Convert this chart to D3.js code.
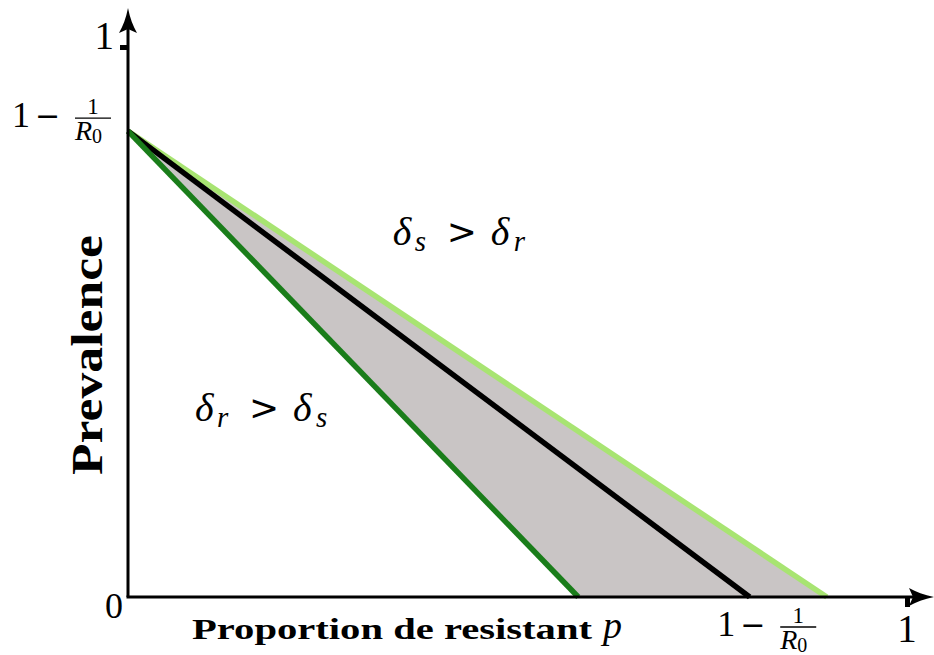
<!DOCTYPE html>
<html lang="en">
<head>
<meta charset="UTF-8">
<title>Prevalence vs proportion de resistant</title>
<script src="https://cdn.jsdelivr.net/npm/d3@7"></script>
<style>
  body { margin: 0; background: #fff; }
  svg text { font-family: "Liberation Serif", "DejaVu Serif", serif; fill: #000; }
  .it { font-style: italic; }
  .op { font-family: "DejaVu Sans", sans-serif; }
  .axis .domain { display: none; }
  .axis line { stroke: #000; stroke-width: 5; }
</style>
</head>
<body>
<script>
// valeurs
var prevStart = 0.847;                     // 1 - 1/R0 sur l'axe y
var lineNames = ["rapide", "neutre", "lent"];
var lineEnds = [0.578, 0.798, 0.897];      // p ou chaque droite touche 0
var lineColors = ["#1a7d1a", "#000000", "#a8e472"];
var xTicks = [1];
var yTicks = [1];
var xFracTick = 0.818;                     // position du label 1 - 1/R0 en bas
var regionLabels = [
  {sub1: "s", sub2: "r", p: 0.340, v: 0.64},
  {sub1: "r", sub2: "s", p: 0.086, v: 0.32}
];

var width = 934, height = 655;
var x0 = 128, x1 = 907, y0 = 597, y1 = 47;

var svg = d3.select("body").append("svg")
  .attr("width", width)
  .attr("height", height);

var x = d3.scaleLinear().domain([0, 1]).range([x0, x1]);
var y = d3.scaleLinear().domain([0, 1]).range([y0, y1]);
var line = d3.line().x(function(d){ return x(d[0]); }).y(function(d){ return y(d[1]); });

// zone grise entre les deux droites vertes
svg.append("path")
  .datum([[0, prevStart], [lineEnds[0], 0], [lineEnds[2], 0]])
  .attr("d", line)
  .attr("fill", "#c9c5c5");

// les trois droites
var lineData = lineNames.map(function(n, i){
  return {name: n, color: lineColors[i], pts: [[0, prevStart], [lineEnds[i], 0]]};
});
svg.append("g").selectAll("path")
  .data([lineData[2], lineData[1], lineData[0]])
  .enter().append("path")
  .attr("d", function(d){ return line(d.pts); })
  .attr("fill", "none")
  .attr("stroke", function(d){ return d.color; })
  .attr("stroke-width", 5.5);

// axes avec fleches
svg.append("line").attr("x1", x0).attr("y1", y0).attr("x2", x0).attr("y2", 24)
  .attr("stroke", "#000").attr("stroke-width", 3);
svg.append("line").attr("x1", x0 - 1.5).attr("y1", y0).attr("x2", 918).attr("y2", y0)
  .attr("stroke", "#000").attr("stroke-width", 3);
svg.append("path")
  .attr("d", "M128,8 C130,18 133,26 137,33 L128,29 L119,33 C123,26 126,18 128,8 Z")
  .attr("fill", "#000");
svg.append("path")
  .attr("d", "M934,597 C924,599 916,602 909,606 L913,597 L909,588 C916,592 924,595 934,597 Z")
  .attr("fill", "#000");

svg.append("g").attr("class", "axis")
  .attr("transform", "translate(" + x0 + ",0)")
  .call(d3.axisLeft(y).tickValues(yTicks).tickSize(8).tickFormat(""));
svg.append("g").attr("class", "axis")
  .attr("transform", "translate(0," + (y0 + 1) + ")")
  .call(d3.axisBottom(x).tickValues(xTicks).tickSize(9).tickFormat(""));

// labels de graduation
svg.selectAll(".ylab").data(yTicks).enter().append("text")
  .attr("x", 114).attr("y", function(d){ return y(d) + 2; })
  .attr("text-anchor", "end").attr("font-size", 39).text(function(d){ return d; });
svg.selectAll(".xlab").data(xTicks).enter().append("text")
  .attr("x", function(d){ return x(d); }).attr("y", 642)
  .attr("text-anchor", "middle").attr("font-size", 39).text(function(d){ return d; });
svg.append("text").attr("x", 123).attr("y", 618)
  .attr("text-anchor", "end").attr("font-size", 36).text("0");

// 1 - 1/R0
function fracLabel(left, base){
  var g = svg.append("g").attr("transform", "translate(" + left + "," + base + ")");
  g.append("text").attr("x", 0).attr("y", 0).attr("font-size", 36).text("1");
  g.append("text").attr("class", "op").attr("x", 23).attr("y", -1).attr("font-size", 30).text("\u2212");
  g.append("text").attr("x", 81).attr("y", -13).attr("font-size", 23)
    .attr("text-anchor", "middle").text("1");
  g.append("line").attr("x1", 63).attr("x2", 99).attr("y1", -9).attr("y2", -9)
    .attr("stroke", "#000").attr("stroke-width", 1.4);
  var t = g.append("text").attr("x", 63).attr("y", 13).attr("font-size", 28);
  t.append("tspan").attr("class", "it").text("R");
  t.append("tspan").attr("font-size", 20).attr("dy", 3).text("0");
}
fracLabel(12, y(prevStart) - 4);
fracLabel(x(xFracTick) - 48, 636);

// titres des axes
svg.append("text")
  .attr("transform", "translate(102," + 355 + ") rotate(-90)")
  .attr("text-anchor", "middle").attr("font-size", 44).attr("font-weight", "bold")
  .attr("textLength", 240).attr("lengthAdjust", "spacingAndGlyphs")
  .text("Prevalence");
svg.append("text").attr("x", 192).attr("y", 639)
  .attr("font-size", 30).attr("font-weight", "bold")
  .attr("textLength", 400).attr("lengthAdjust", "spacingAndGlyphs")
  .text("Proportion de resistant");
svg.append("text").attr("class", "it").attr("x", 603).attr("y", 638)
  .attr("font-size", 38).text("p");

// zones
regionLabels.forEach(function(r){
  var px = x(r.p), py = y(r.v);
  var t = svg.append("text").attr("y", py).attr("font-size", 40);
  t.append("tspan").attr("class", "it").attr("x", px).text("\u03b4");
  t.append("tspan").attr("class", "it").attr("x", px + 22).attr("dy", 6).attr("font-size", 29).text(r.sub1);
  t.append("tspan").attr("class", "op").attr("x", px + 54).attr("dy", -7).attr("font-size", 36).text(">");
  t.append("tspan").attr("class", "it").attr("x", px + 98).attr("dy", 1).text("\u03b4");
  t.append("tspan").attr("class", "it").attr("x", px + 121).attr("dy", 6).attr("font-size", 29).text(r.sub2);
});
</script>
</body>
</html>
